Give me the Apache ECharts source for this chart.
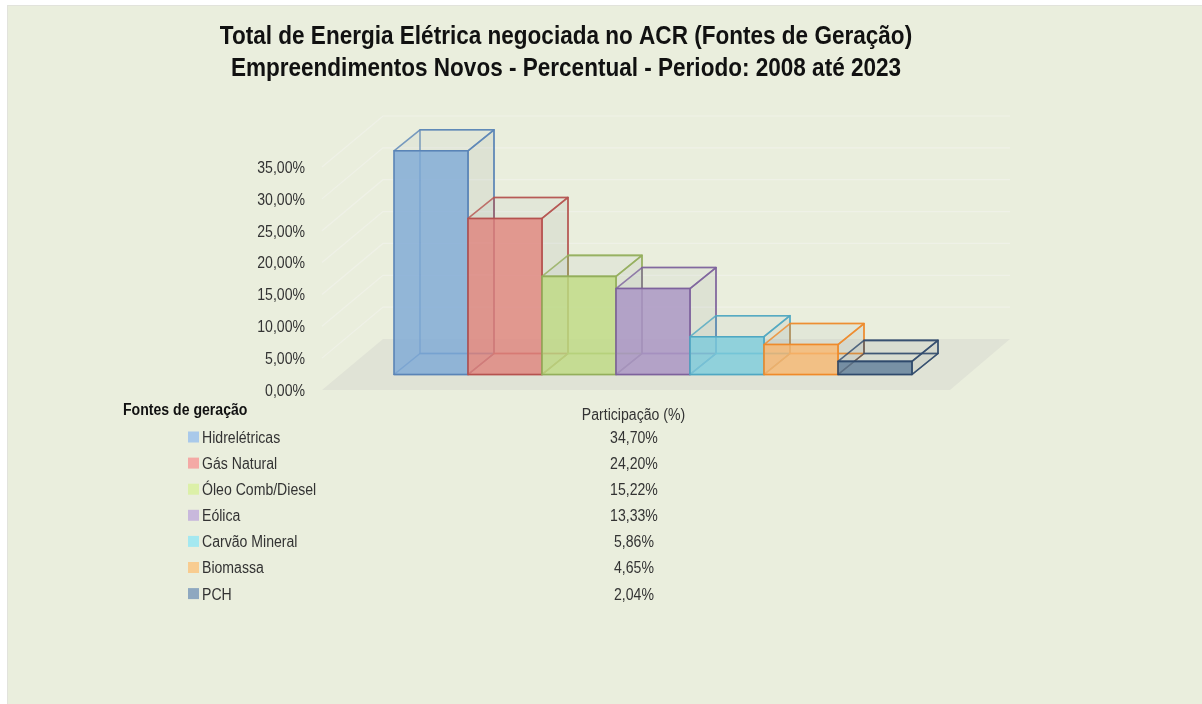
<!DOCTYPE html>
<html><head><meta charset="utf-8">
<style>
html,body{margin:0;padding:0;background:#fff;width:1202px;height:704px;overflow:hidden}
#panel{position:absolute;left:7px;top:5px;width:1195px;height:699px;background:#eaeedd;border:1px solid #e2e3dc;border-right:none;border-bottom:none;box-sizing:border-box}
#c{position:absolute;left:0;top:0;width:1202px;height:704px}
</style>
<script src="https://cdn.jsdelivr.net/npm/echarts@6/dist/echarts.min.js"></script>
</head><body><div id="panel"></div><div id="c"></div>
<script>
const categories = ['Hidrelétricas','Gás Natural','Óleo Comb/Diesel','Eólica','Carvão Mineral','Biomassa','PCH'];
const participacao = [34.70,24.20,15.22,13.33,5.86,4.65,2.04];
const participacaoLabels = ['34,70%','24,20%','15,22%','13,33%','5,86%','4,65%','2,04%'];
const yTicks = [0,5,10,15,20,25,30,35];
const yTickLabels = ['0,00%','5,00%','10,00%','15,00%','20,00%','25,00%','30,00%','35,00%'];
const titleLines = ['Total de Energia Elétrica negociada no ACR (Fontes de Geração)','Empreendimentos Novos - Percentual - Periodo: 2008 até 2023'];
const faceColors = ['rgba(124,168,214,.8)','rgba(222,130,124,.8)','rgba(190,218,130,.8)','rgba(170,150,196,.85)','rgba(124,204,220,.8)','rgba(246,182,112,.8)','rgba(86,118,148,.75)'];
const edgeColors = ['#5a84b6','#b5524f','#93ae5b','#7d629c','#4fa7c2','#ef8a2a','#2f4a6c'];
const swatchColors = ['#a9c9ea','#f4a9a5','#dcf0a8','#c8b8dc','#a4e8f0','#f8cc90','#8ea8c0'];

const FONT = '"Liberation Sans",Arial,sans-serif';
const NARROW = 0.88, TITLE_NARROW = 0.867;
const DX = 26, DY = -21, BASE_LIFT = 15.5, BAR_SCALE = 1.012, FLOOR_L = 72, FLOOR_R = 38, FLOOR_D = 61, FLOOR_H = 51;

function bar3d(params, api) {
  const i = params.seriesIndex - 1;
  const p0 = api.coord([api.value(0), 0]);
  const p1 = api.coord([api.value(0), api.value(1)]);
  const w = api.size([1, 0])[0];
  const xl = p0[0] - w / 2, xr = p0[0] + w / 2;
  const yb = p0[1] - BASE_LIFT, yt = yb - (p0[1] - p1[1]) * BAR_SCALE;
  const edge = edgeColors[i];
  const poly = (pts, fill, opacity, lw) => ({
    type: 'polygon', shape: { points: pts },
    style: { fill: fill, stroke: edge, lineWidth: lw || 1.6, opacity: opacity, lineJoin: 'round' }
  });
  return { type: 'group', children: [
    poly([[xl+DX,yt+DY],[xr+DX,yt+DY],[xr+DX,yb+DY],[xl+DX,yb+DY]], 'rgba(0,0,0,0)', .75),
    poly([[xl,yb],[xl+DX,yb+DY],[xr+DX,yb+DY],[xr,yb]], 'rgba(0,0,0,0)', .75),
    poly([[xr,yt],[xr+DX,yt+DY],[xr+DX,yb+DY],[xr,yb]], 'rgba(110,125,130,.13)', .8),
    poly([[xl,yt],[xl+DX,yt+DY],[xr+DX,yt+DY],[xr,yt]], 'rgba(130,145,150,.09)', .8),
    poly([[xl,yt],[xr,yt],[xr,yb],[xl,yb]], faceColors[i], 1)
  ]};
}

function floorAndWalls(params, api) {
  const p0 = api.coord([0, 0]);
  const w = api.size([1, 0])[0];
  const yf = p0[1], xl = p0[0] - w / 2 - FLOOR_L, xr = p0[0] + w * 6.5 + FLOOR_R;
  const kids = [{
    type: 'polygon',
    shape: { points: [[xl,yf],[xl+FLOOR_D,yf-FLOOR_H],[xr+FLOOR_D-1,yf-FLOOR_H],[xr,yf]] },
    style: { fill: '#e0e3d6' }
  }];
  yTicks.forEach((v, k) => {
    const y = api.coord([0, v])[1];
    if (v > 0) kids.push({
      type: 'polyline',
      shape: { points: [[xl,y],[xl+FLOOR_D,y-FLOOR_H],[xr+FLOOR_D-1,y-FLOOR_H]] },
      style: { fill: null, stroke: '#eff1e7', lineWidth: 1.2 }
    });
    kids.push({
      type: 'text', x: 305, y: y + 1.5, scaleX: NARROW,
      style: { text: yTickLabels[k], align: 'right', verticalAlign: 'middle', font: '16px ' + FONT, fill: '#333' }
    });
  });
  return { type: 'group', children: kids };
}

const rowY = i => 438.5 + i * 26.1;
const label = (x, y, text, align, font, fill) => ({
  type: 'text', x: x, y: y, scaleX: NARROW,
  style: { text: text, align: align, verticalAlign: 'middle', font: font, fill: fill }
});

const tableRows = [];
categories.forEach((c, i) => {
  tableRows.push({ type: 'rect', x: 188, y: rowY(i) - 7, shape: { x: 0, y: 0, width: 11, height: 11 }, style: { fill: swatchColors[i] } });
  tableRows.push(label(202, rowY(i), c, 'left', '16px ' + FONT, '#333'));
  tableRows.push(label(634, rowY(i), participacaoLabels[i], 'center', '16px ' + FONT, '#333'));
});

const titleEls = titleLines.map((t, i) => ({
  type: 'text', x: 566, y: 36.5 + i * 32, scaleX: TITLE_NARROW,
  style: { text: t, align: 'center', verticalAlign: 'middle', font: 'bold 26px ' + FONT, fill: '#111' }
}));

const option = {
  animation: false,
  backgroundColor: 'transparent',
  grid: { left: 394, width: 518, top: 167, height: 223, containLabel: false },
  xAxis: { type: 'category', data: categories, show: false },
  yAxis: {
    type: 'value', min: 0, max: 35, interval: 5,
    axisLine: { show: false }, axisTick: { show: false }, splitLine: { show: false }, axisLabel: { show: false }
  },
  graphic: titleEls.concat([
    label(123, 411, 'Fontes de geração', 'left', 'bold 16px ' + FONT, '#111'),
    label(633.5, 415.5, 'Participação (%)', 'center', '16px ' + FONT, '#333')
  ]).concat(tableRows),
  series: [
    { type: 'custom', name: '_floor', silent: true, renderItem: floorAndWalls, data: [[0, 0]], z: 1, tooltip: { show: false } }
  ].concat(categories.map((c, i) => ({
    type: 'custom', name: c, renderItem: bar3d, data: [[i, participacao[i]]], z: 2,
    itemStyle: { color: swatchColors[i] }
  })))
};
echarts.init(document.getElementById('c'), null, { renderer: 'canvas' }).setOption(option);
</script></body></html>
